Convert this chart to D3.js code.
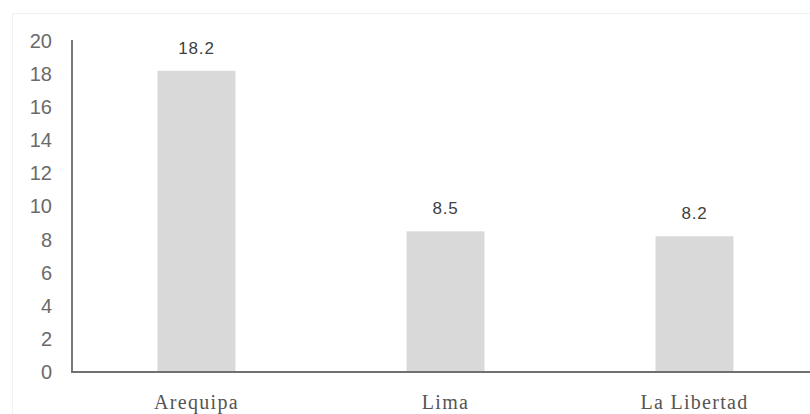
<!DOCTYPE html>
<html>
<head>
<meta charset="utf-8">
<script src="https://cdn.jsdelivr.net/npm/d3@7"></script>
<style>
  html, body { margin: 0; padding: 0; background: #fff; }
  svg { display: block; }
</style>
</head>
<body>
<svg id="chart" width="810" height="414"></svg>
<script>
const categories = ["Arequipa", "Lima", "La Libertad"];
const values = [18.2, 8.5, 8.2];
const valueLabels = ["18.2", "8.5", "8.2"];
const yTicks = [0, 2, 4, 6, 8, 10, 12, 14, 16, 18, 20];

(function () {
const svg = d3.select("#chart");
const W = 810, H = 414;
const mLeft = 72, mTop = 41, mBottom = 372;

// faint chart-area border
svg.append("rect")
  .attr("x", 12.5).attr("y", 13.5)
  .attr("width", W).attr("height", H)
  .attr("fill", "none").attr("stroke", "#f1f1f1").attr("stroke-width", 1);

const x = d3.scaleBand().domain(categories).range([mLeft, 819])
  .paddingInner(0.687).paddingOuter(0.3435);
const y = d3.scaleLinear().domain([0, 20]).range([mBottom, mTop]);

// bars
svg.append("g").selectAll("rect").data(values).join("rect")
  .attr("x", (d, i) => x(categories[i]))
  .attr("y", d => y(d))
  .attr("width", x.bandwidth())
  .attr("height", d => y(0) - y(d))
  .attr("fill", "#d9d9d9");

// value labels
svg.append("g").selectAll("text").data(values).join("text")
  .attr("x", (d, i) => x(categories[i]) + x.bandwidth() / 2)
  .attr("y", d => y(d) - 17)
  .attr("text-anchor", "middle")
  .attr("font-family", "'Liberation Sans', Arial, sans-serif")
  .attr("font-size", 17)
  .attr("letter-spacing", 0.8)
  .attr("fill", "#404040")
  .text((d, i) => valueLabels[i]);

// y axis
const yAxis = d3.axisLeft(y).tickValues(yTicks).tickSize(0).tickPadding(20);
const gy = svg.append("g").attr("transform", `translate(${mLeft},0)`).call(yAxis);
gy.select(".domain").attr("stroke", "#7a7a7a").attr("stroke-width", 2).attr("d", `M0,${mTop - 1}V${mBottom}`);
gy.selectAll("text")
  .attr("font-family", "'Liberation Sans', Arial, sans-serif")
  .attr("font-size", 20)
  .attr("font-weight", 300)
  .attr("fill", "#6a6a6a");

// x axis
const xAxis = d3.axisBottom(x).tickSize(0).tickPadding(0);
const gx = svg.append("g").attr("transform", `translate(0,${mBottom})`).call(xAxis);
gx.select(".domain").attr("stroke", "#707070").attr("stroke-width", 2).attr("d", `M${mLeft - 1},0H${W}`);
gx.selectAll("text")
  .attr("y", 37)
  .attr("dy", null)
  .attr("font-family", "'Liberation Serif', 'Times New Roman', serif")
  .attr("font-size", 20)
  .attr("letter-spacing", 1.3)
  .attr("fill", "#555");
})();
</script>
</body>
</html>
